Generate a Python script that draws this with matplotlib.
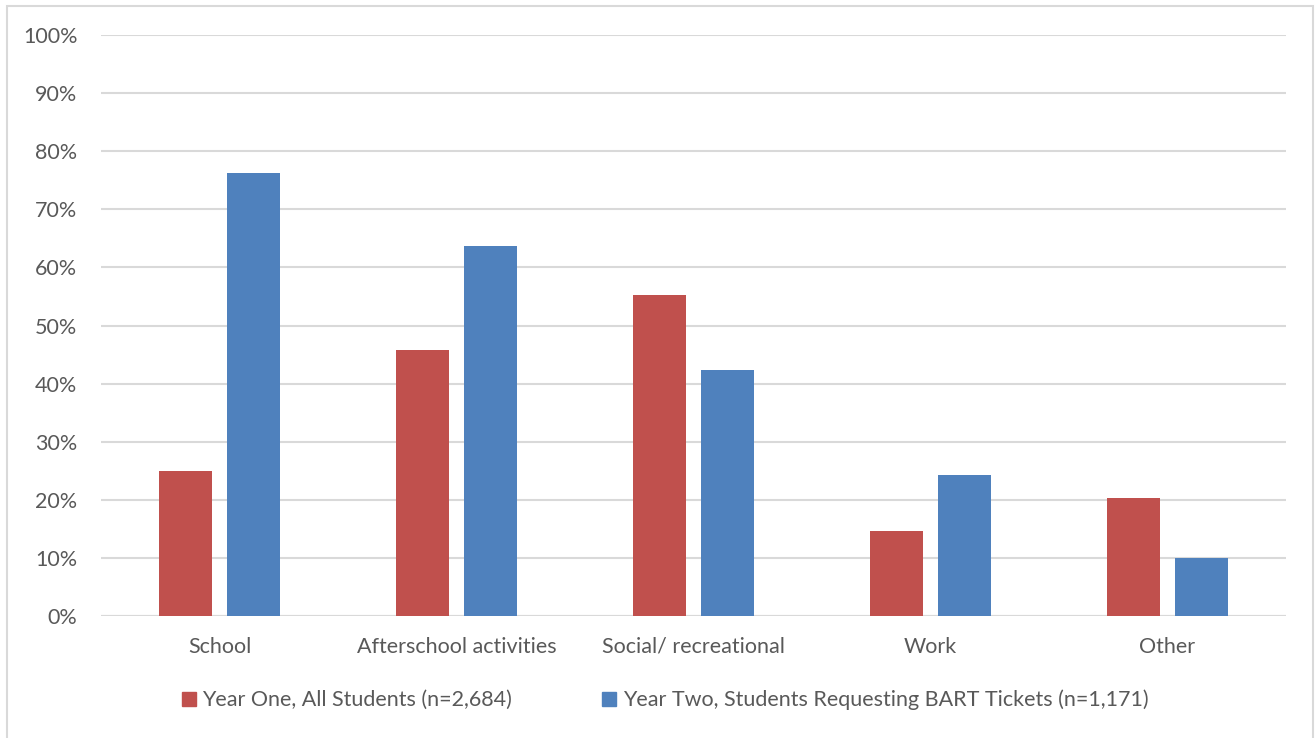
import matplotlib.pyplot as plt
import matplotlib.patches as mpatches
import numpy as np
from matplotlib.ticker import PercentFormatter

plt.rcParams['font.family'] = ['Lato', 'DejaVu Sans']

categories = ['School', 'Afterschool activities', 'Social/ recreational', 'Work', 'Other']
year_one = [25.0, 45.8, 55.2, 14.7, 20.3]
year_two = [76.2, 63.6, 42.4, 24.3, 9.9]
labels = ['Year One, All Students (n=2,684)',
          'Year Two, Students Requesting BART Tickets (n=1,171)']

RED = '#C0504D'
BLUE = '#4F81BD'
GRID = '#d9d9d9'
TEXT = '#595959'

fig = plt.figure(figsize=(13.15, 7.38), dpi=100)
ax = fig.add_axes([101 / 1315, 1 - 616 / 738, 1185 / 1315, 581 / 738])

x = np.arange(len(categories))
width = 0.224
offset = 0.142
ax.bar(x - offset, year_one, width, color=RED, label=labels[0], zorder=3)
ax.bar(x + offset, year_two, width, color=BLUE, label=labels[1], zorder=3)

ax.set_xlim(-0.5, len(categories) - 0.5)
ax.set_ylim(0, 100)
ax.set_yticks(range(0, 101, 10))
ax.yaxis.set_major_formatter(PercentFormatter(decimals=0))
ax.set_xticks(x)
ax.set_xticklabels(categories)
ax.grid(axis='y', color=GRID, linewidth=1.5, zorder=0)
ax.tick_params(axis='both', length=0, labelsize=15.5, labelcolor=TEXT)
ax.tick_params(axis='y', pad=17)
ax.tick_params(axis='x', pad=15)
for s in ax.spines.values():
    s.set_visible(False)
ax.axhline(0, color=GRID, linewidth=1.5, zorder=2)

handles = [mpatches.Patch(color=RED, label=labels[0]),
           mpatches.Patch(color=BLUE, label=labels[1])]
fig.legend(handles=handles, loc='center', bbox_to_anchor=(665 / 1315, 1 - 700 / 738),
           ncol=2, frameon=False, fontsize=15.5, labelcolor=TEXT,
           handlelength=0.65, handleheight=0.65, handletextpad=0.3, columnspacing=4.2)

border = mpatches.Rectangle((7 / 1315, -0.01), 1306 / 1315, 1 - 6 / 738 + 0.01,
                            transform=fig.transFigure, fill=False,
                            edgecolor=GRID, linewidth=1.5)
fig.patches.append(border)

fig.savefig('out.png', dpi=100)
